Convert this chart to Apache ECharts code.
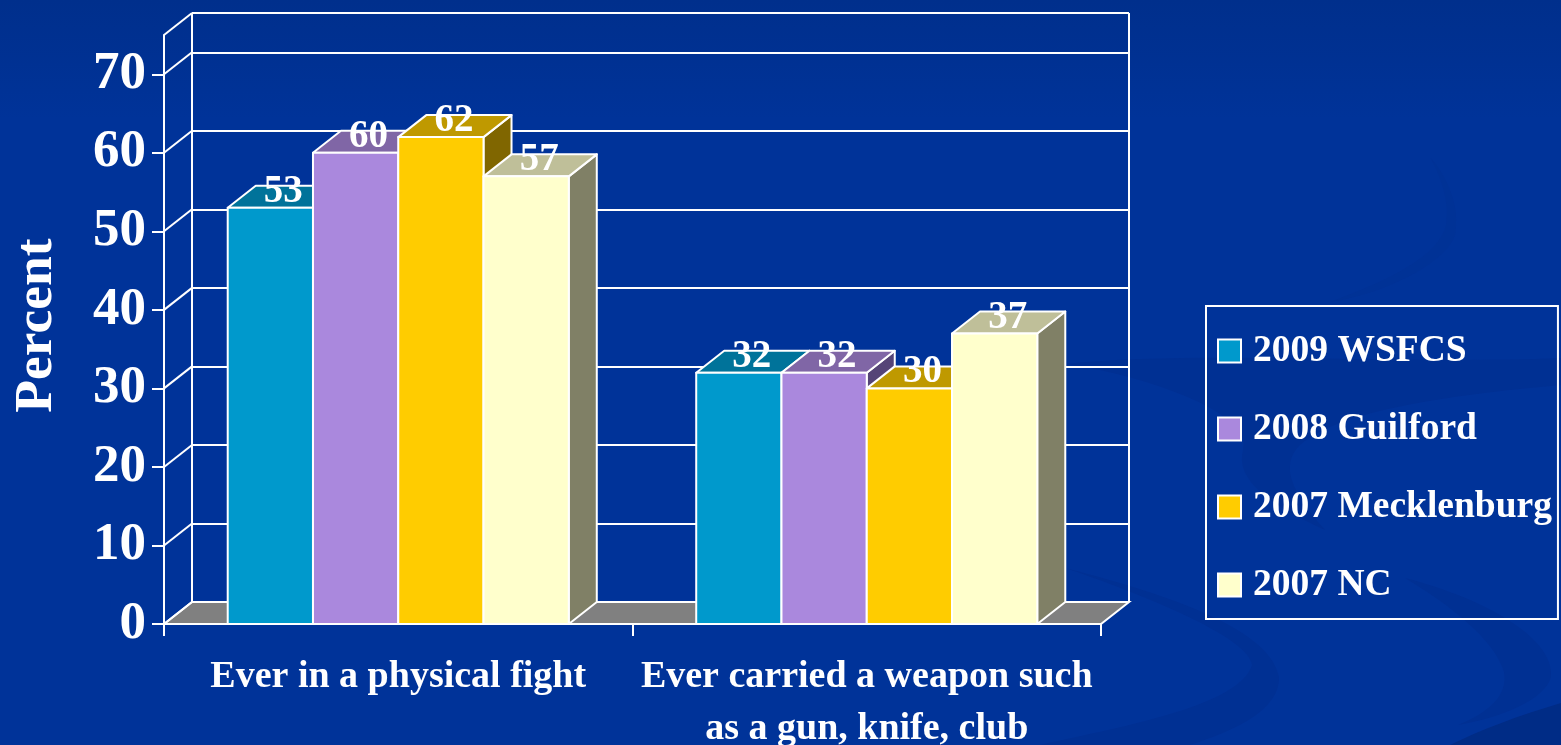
<!DOCTYPE html>
<html>
<head>
<meta charset="utf-8">
<title>Percent</title>
<style>
html, body { margin: 0; padding: 0; background: #003399; overflow: hidden; }
#main { width: 1561px; height: 745px; }
</style>
<script src="https://cdn.jsdelivr.net/npm/echarts@6/dist/echarts.min.js"></script>
</head>
<body>
<div id="main"></div>
<script type="text/javascript">
var categories = ['Ever in a physical fight', 'Ever carried a weapon such\nas a gun, knife, club'];
var seriesNames = ['2009 WSFCS', '2008 Guilford', '2007 Mecklenburg', '2007 NC'];
var wsfcs = [53, 32];
var guilford = [60, 32];
var mecklenburg = [62, 30];
var nc = [57, 37];
var yTicks = [0, 10, 20, 30, 40, 50, 60, 70];
var yMax = 75;

// front, top, side colours of each bar
var frontColors = ['#0099cc', '#aa88dd', '#ffcc00', '#ffffcc'];
var topColors = ['#00739a', '#8066a6', '#bf9900', '#bfbf99'];
var sideColors = ['#004d66', '#554477', '#806600', '#808066'];

var depthX = 28;
var depthY = 22;
var fontName = '"Liberation Serif", serif';

// faint swooshes of the slide background
var swooshes = [
	['M1065 364 C1200 350 1400 365 1561 358 L1561 385 C1450 395 1340 410 1300 445 C1280 465 1290 490 1325 530 C1270 505 1235 480 1243 450 C1255 410 1130 372 1065 364 Z', '#003093'],
	['M1065 568 C1150 590 1270 625 1279 677 C1280 715 1220 735 1190 745 L1040 745 C1130 725 1240 705 1252 665 C1250 640 1160 600 1065 568 Z', '#003093'],
	['M1405 578 C1490 600 1555 640 1551 677 C1545 700 1500 718 1458 725 C1490 712 1508 695 1504 672 C1495 640 1450 605 1405 578 Z', '#003093'],
	['M1561 703 C1520 715 1480 730 1450 745 L1561 745 Z', '#002c86'],
	['M1430 157 C1450 180 1460 210 1455 235 C1445 265 1380 295 1330 302 C1390 280 1440 255 1446 225 C1450 200 1440 175 1430 157 Z', '#003296']
];

var myChart = echarts.init(document.getElementById('main'));

function renderSwooshes(params, api) {
	return {
		type: 'group',
		children: swooshes.map(function (s) {
			return { type: 'path', shape: { pathData: s[0] }, style: { fill: s[1] } };
		})
	};
}

/* floor, side wall and right edge of the box */
function renderWalls(params, api) {
	var box = params.coordSys;
	var x0 = box.x, x1 = box.x + box.width, yBottom = box.y + box.height, yTop = box.y;
	var lineStyle = { stroke: '#fff', lineWidth: 2 };
	var children = [{
		type: 'polygon',
		shape: { points: [[x0, yBottom], [x0 + depthX, yBottom - depthY], [x1 + depthX, yBottom - depthY], [x1, yBottom]] },
		style: { fill: '#808080', stroke: '#fff', lineWidth: 2 }
	}, {
		type: 'line',
		shape: { x1: x0 + depthX, y1: yTop - depthY, x2: x0 + depthX, y2: yBottom - depthY },
		style: lineStyle
	}, {
		type: 'line',
		shape: { x1: x1 + depthX, y1: yTop - depthY, x2: x1 + depthX, y2: yBottom - depthY },
		style: lineStyle
	}, {
		type: 'line',
		shape: { x1: x0, y1: yTop, x2: x0 + depthX, y2: yTop - depthY },
		style: lineStyle
	}];
	yTicks.forEach(function (t) {
		var y = api.coord([0, t])[1];
		children.push({
			type: 'line',
			shape: { x1: x0, y1: y, x2: x0 + depthX, y2: y - depthY },
			style: lineStyle
		});
	});
	return { type: 'group', children: children };
}

function makeBarRenderer(index) {
	return function (params, api) {
		var value = api.value(1);
		var center = api.coord([api.value(0), 0]);
		var top = api.coord([api.value(0), value])[1];
		var bottom = center[1];
		var w = api.size([1, 0])[0] * 0.182;
		var left = center[0] - 2 * w + index * w;
		var right = left + w;
		var edge = { stroke: '#fff', lineWidth: 2, lineJoin: 'round' };
		return {
			type: 'group',
			children: [{
				type: 'polygon',
				shape: { points: [[right, bottom], [right + depthX, bottom - depthY], [right + depthX, top - depthY], [right, top]] },
				style: Object.assign({ fill: sideColors[index] }, edge)
			}, {
				type: 'polygon',
				shape: { points: [[left, top], [left + depthX, top - depthY], [right + depthX, top - depthY], [right, top]] },
				style: Object.assign({ fill: topColors[index] }, edge)
			}, {
				type: 'rect',
				shape: { x: left, y: top, width: w, height: bottom - top },
				style: Object.assign({ fill: frontColors[index] }, edge)
			}, {
				type: 'text',
				z2: 10,
				style: {
					text: String(value),
					x: left + w / 2 + 13,
					y: top - 16,
					align: 'center',
					verticalAlign: 'middle',
					fill: '#fff',
					font: 'bold 39px ' + fontName
				}
			}]
		};
	};
}

function toRows(values) {
	return values.map(function (v, i) { return [i, v]; });
}

var allValues = [wsfcs, guilford, mecklenburg, nc];
var series = [{
	name: 'background',
	type: 'custom',
	xAxisIndex: 0,
	yAxisIndex: 0,
	clip: false,
	silent: true,
	z: -1,
	renderItem: renderSwooshes,
	data: [[0, 0]]
}, {
	name: 'walls',
	type: 'custom',
	xAxisIndex: 0,
	yAxisIndex: 0,
	clip: false,
	silent: true,
	z: 1,
	renderItem: renderWalls,
	data: [[0, 0]]
}];
seriesNames.forEach(function (name, i) {
	series.push({
		name: name,
		type: 'custom',
		xAxisIndex: 0,
		yAxisIndex: 0,
		clip: false,
		z: 2,
		itemStyle: { color: frontColors[i], borderColor: '#fff', borderWidth: 2 },
		renderItem: makeBarRenderer(i),
		encode: { x: 0, y: 1 },
		data: toRows(allValues[i])
	});
});

var option = {
	animation: false,
	backgroundColor: {
		type: 'linear', x: 0, y: 0, x2: 0, y2: 1,
		colorStops: [{ offset: 0, color: '#002f8c' }, { offset: 0.16, color: '#003399' }, { offset: 1, color: '#003399' }]
	},
	legend: {
		data: seriesNames,
		orient: 'vertical',
		left: 1206,
		top: 306,
		padding: [26, 6, 15, 11],
		itemGap: 40,
		itemWidth: 23,
		itemHeight: 23,
		icon: 'rect',
		borderColor: '#fff',
		borderWidth: 2,
		selectedMode: false,
		textStyle: {
			color: '#fff',
			fontFamily: fontName,
			fontWeight: 'bold',
			fontSize: 37.5,
			lineHeight: 37,
			padding: [0, 0, 0, 7]
		}
	},
	grid: [
		{ left: 164, right: 460, top: 35, bottom: 121, outerBoundsMode: 'none' },
		{ left: 192, right: 432, top: 13, bottom: 143, outerBoundsMode: 'none' }
	],
	xAxis: [{
		type: 'category',
		gridIndex: 0,
		data: categories,
		axisLine: { lineStyle: { color: '#fff', width: 2 } },
		axisTick: { show: true, length: 12, lineStyle: { color: '#fff', width: 2 } },
		axisLabel: {
			interval: 0,
			margin: 27,
			color: '#fff',
			fontFamily: fontName,
			fontWeight: 'bold',
			fontSize: 38,
			lineHeight: 52
		}
	}, {
		type: 'category',
		gridIndex: 1,
		data: categories,
		show: false
	}],
	yAxis: [{
		type: 'value',
		gridIndex: 0,
		min: 0,
		max: yMax,
		interval: 10,
		name: 'Percent',
		nameLocation: 'middle',
		nameRotate: 90,
		nameGap: 100,
		nameTextStyle: { color: '#fff', fontFamily: fontName, fontWeight: 'bold', fontSize: 53.5, padding: [0, 0, 0, 8] },
		splitLine: { show: false },
		axisLine: { show: true, lineStyle: { color: '#fff', width: 2 } },
		axisTick: { show: true, length: 12, customValues: yTicks, lineStyle: { color: '#fff', width: 2 } },
		axisLabel: {
			customValues: yTicks,
			margin: 18,
			padding: [4, 0, 0, 0],
			color: '#fff',
			fontFamily: fontName,
			fontWeight: 'bold',
			fontSize: 53
		}
	}, {
		type: 'value',
		gridIndex: 1,
		min: 0,
		max: yMax,
		interval: 10,
		axisLine: { show: false },
		axisTick: { show: false },
		axisLabel: { show: false },
		splitLine: { show: true, lineStyle: { color: '#fff', width: 2 } }
	}],
	series: series
};
myChart.setOption(option);
</script>
</body>
</html>
